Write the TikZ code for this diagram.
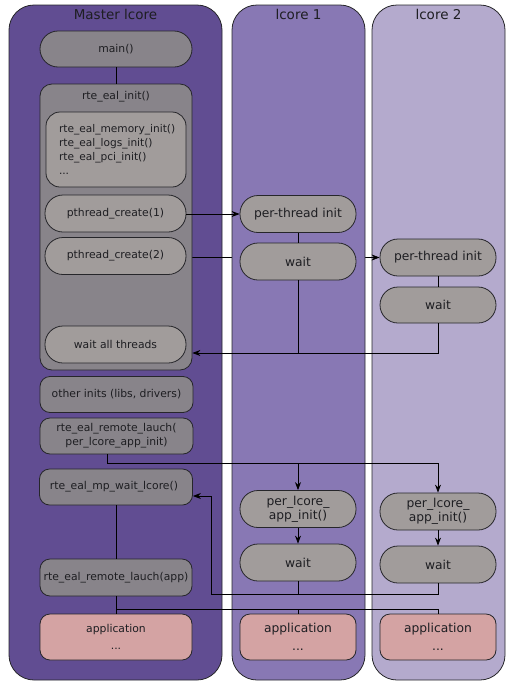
\documentclass[tikz,border=0pt]{standalone}
\usepackage{fontspec}
\setmainfont{DejaVu Sans}
\usetikzlibrary{arrows.meta,calc}
\definecolor{mpanel}{RGB}{97,77,146}
\definecolor{lonepanel}{RGB}{136,120,180}
\definecolor{ltwopanel}{RGB}{180,170,205}
\definecolor{dgray}{RGB}{136,132,138}
\definecolor{lgray}{RGB}{161,156,155}
\definecolor{pinkapp}{RGB}{212,163,163}
\definecolor{edgec}{RGB}{38,38,42}
\definecolor{txtc}{RGB}{30,30,34}
\pgfdeclarelayer{bg}
\pgfdeclarelayer{mid}
\pgfsetlayers{bg,mid,main}
\begin{document}
\begin{tikzpicture}[x=1pt,y=-1pt,
  panel/.style={draw=edgec, line width=0.8pt, rounded corners=25pt, minimum width=133pt, minimum height=675pt, inner sep=0pt},
  ptitle/.style={font=\fontsize{13.5}{16}\selectfont, text=txtc, inner sep=0pt},
  mfont/.style={font=\fontsize{10.8}{13.5}\selectfont, text=txtc},
  lfont/.style={font=\fontsize{12.3}{14.5}\selectfont, text=txtc},
  mpill/.style={mfont, draw=edgec, line width=0.8pt, fill=lgray, rounded corners=18pt, minimum width=141pt, minimum height=37pt, inner sep=0pt},
  mbox/.style={mfont, draw=edgec, line width=0.8pt, fill=dgray, rounded corners=10pt, minimum width=153pt, minimum height=36pt, inner sep=0pt, align=center},
  lpill/.style={lfont, draw=edgec, line width=0.8pt, fill=lgray, rounded corners=18pt, minimum width=116pt, minimum height=37pt, inner sep=0pt, align=center},
  appbox/.style={draw=edgec, line width=0.8pt, fill=pinkapp, rounded corners=10pt, minimum height=46pt, inner sep=0pt, align=center},
  conn/.style={draw=black, line width=0.8pt},
  arr/.style={conn, -{Stealth[length=8pt,width=6pt]}}
]
\useasboundingbox (0,0) rectangle (515,691);
% panels
\begin{pgfonlayer}{bg}
\node[panel, fill=mpanel, minimum width=213pt] (pm) at (115.5,342.5) {};
\node[panel, fill=ltwopanel] (ptwo) at (438.5,342.5) {};
\end{pgfonlayer}
\node[panel, fill=lonepanel] (pone) at (298.5,342.5) {};
\node[ptitle] (tm) at (115.5,14) {Master lcore};
\node[ptitle] (tone) at (298.5,14) {lcore 1};
\node[ptitle] (ttwo) at (438.5,14) {lcore 2};

% master nodes
\node[mpill, fill=dgray, minimum width=152pt, minimum height=36pt] (main) at (116,49) {main()};
\node[draw=edgec, line width=0.8pt, fill=dgray, rounded corners=12pt, minimum width=152pt, minimum height=286pt] (init) at (116,227) {};
\node[mfont, inner sep=0pt] (initlbl) at (116,97) {rte\_eal\_init()};
\node[draw=edgec, line width=0.8pt, fill=lgray, rounded corners=14pt, minimum width=140pt, minimum height=75pt,
      inner xsep=13pt, inner ysep=0pt, text width=114pt, align=left, text=txtc,
      font=\fontsize{10.6}{14.3}\selectfont] (inner) at (116,149.5)
      {rte\_eal\_memory\_init()\\rte\_eal\_logs\_init()\\rte\_eal\_pci\_init()\\...};
\node[mpill] (pcone) at (115.5,213.5) {pthread\_create(1)};
\node[mpill] (pctwo) at (115.5,256) {pthread\_create(2)};
\node[mpill] (wat) at (115.5,344.5) {wait all threads};
\node[mbox] (other) at (116.5,394.5) {other inits (libs, drivers)};
\node[mbox, font=\fontsize{10.8}{14}\selectfont] (rlone) at (116.5,436) {rte\_eal\_remote\_lauch(\\per\_lcore\_app\_init)};
\node[mbox] (mpw) at (116,487) {\hspace*{-4pt}rte\_eal\_mp\_wait\_lcore()};
\node[mbox, minimum width=152pt, minimum height=37pt] (rltwo) at (116,577.5) {rte\_eal\_remote\_lauch(app)};
\node[appbox, mfont, minimum width=152pt, font=\fontsize{10.8}{17}\selectfont] (appm) at (116,637) {application\\...};

% lcore 1 nodes
\node[lpill] (ptione) at (298,214) {per-thread init};
\node[lpill] (wone) at (298,261.5) {wait};
\node[lpill, font=\fontsize{12.3}{14}\selectfont] (paone) at (298,509) {per\_lcore\_\\app\_init()};
\node[lpill] (wbone) at (298,562.5) {wait};
\node[appbox, lfont, minimum width=116pt, font=\fontsize{12.3}{18}\selectfont] (appone) at (298,637) {application\\...};

% lcore 2 nodes
\node[lpill] (ptitwo) at (438,257.5) {per-thread init};
\node[lpill, minimum height=36pt] (wtwo) at (438,305) {wait};
\node[lpill, font=\fontsize{12.3}{14}\selectfont] (patwo) at (438,511.5) {per\_lcore\_\\app\_init()};
\node[lpill] (wbtwo) at (438,564.5) {wait};
\node[appbox, lfont, minimum width=116pt, font=\fontsize{12.3}{18}\selectfont] (apptwo) at (438,637) {application\\...};

% helper coordinates
\coordinate (retY) at (0,353);
\coordinate (busA) at (0,463.5);
\coordinate (busB) at (211,594);
\coordinate (busC) at (0,609);
\coordinate (rlout) at ([xshift=-9.5pt]rlone.south);

% connectors
\draw[conn] (main.south) -- (init.north);
\draw[arr] (pcone.east |- ptione.west) -- (ptione.west);
\begin{pgfonlayer}{mid}
\draw[arr] (pctwo.east |- ptitwo.west) -- (ptitwo.west);
\end{pgfonlayer}
\draw[conn] (ptione.south) -- (wone.north);
\draw[conn] (ptitwo.south) -- (wtwo.north);
\draw[conn] (wone.south) -- (wone.south |- retY);
\draw[arr] (wtwo.south) |- (init.east |- retY);

\draw[arr] (rlout) |- (patwo.north |- busA) -- (patwo.north);
\draw[arr] (paone.north |- busA) -- (paone.north);
\draw[arr] (paone.south) -- (wbone.north);
\draw[arr] (patwo.south) -- (wbtwo.north);
\draw[conn] (wbone.south) -- (wbone.south |- busB);
\draw[arr] (wbtwo.south) |- (busB) |- ([yshift=-9pt]mpw.east);
\draw[conn] (mpw.south) -- (mpw.south |- rltwo.north);
\draw[conn] (rltwo.south) -- (appm.north);
\draw[conn] (rltwo.south |- busC) -| (apptwo.north);
\draw[conn] (appone.north |- busC) -- (appone.north);
\end{tikzpicture}
\end{document}
